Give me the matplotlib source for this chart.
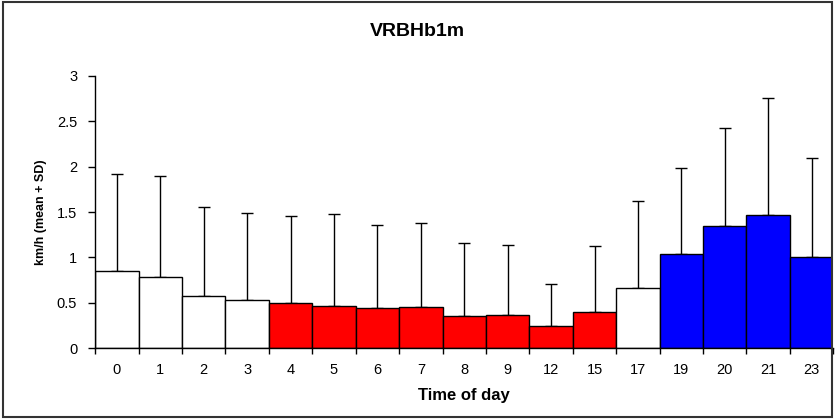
import numpy as np
import matplotlib
matplotlib.use("Agg")
import matplotlib.pyplot as plt
from matplotlib.patches import Rectangle

plt.rcParams['font.family'] = ['Liberation Sans', 'DejaVu Sans']

hours = ['0', '1', '2', '3', '4', '5', '6', '7', '8', '9', '12', '15', '17',
         '19', '20', '21', '23']
means = [0.85, 0.78, 0.58, 0.53, 0.50, 0.47, 0.44, 0.45, 0.35, 0.37, 0.24,
         0.40, 0.66, 1.04, 1.35, 1.47, 1.00]
tops = [1.92, 1.90, 1.55, 1.49, 1.46, 1.48, 1.36, 1.38, 1.16, 1.14, 0.71,
        1.13, 1.62, 1.99, 2.43, 2.76, 2.09]
groups = ['w', 'w', 'w', 'w', 'r', 'r', 'r', 'r', 'r', 'r', 'r', 'r', 'w',
          'b', 'b', 'b', 'b']

GROUP_COLORS = {'w': '#ffffff', 'r': '#ff0000', 'b': '#0000ff'}

sd = np.array(tops) - np.array(means)
x = np.arange(len(hours))
colors = [GROUP_COLORS[g] for g in groups]

fig = plt.figure(figsize=(8.35, 4.19), dpi=100)
ax = fig.add_axes([0.114, 0.169, 0.884, 0.650])

ax.bar(x, means, width=1.0, color=colors, edgecolor='black', linewidth=1.0,
       zorder=2)
ax.errorbar(x, means, yerr=[np.zeros_like(sd), sd], fmt='none',
            ecolor='black', elinewidth=1.0, capsize=4, capthick=1.0, zorder=1)

ax.set_xlim(-0.5, len(hours) - 0.5)
ax.set_ylim(0, 3)
ax.set_yticks([0, 0.5, 1, 1.5, 2, 2.5, 3])
ax.set_yticklabels(['0', '0.5', '1', '1.5', '2', '2.5', '3'])

# ticks between categories, labels at centres
ax.set_xticks(np.arange(len(hours) + 1) - 0.5)
ax.set_xticklabels([])
ax.set_xticks(x, minor=True)
ax.set_xticklabels(hours, minor=True)
ax.tick_params(axis='x', which='major', direction='out', length=4, width=1)
ax.tick_params(axis='x', which='minor', length=0, pad=11, labelsize=10.5)
ax.tick_params(axis='y', direction='out', length=5, width=1, pad=8,
               labelsize=10.5)

for s in ['top', 'right']:
    ax.spines[s].set_visible(False)
ax.spines['left'].set_linewidth(1.0)
ax.spines['bottom'].set_linewidth(1.0)

ax.set_xlabel('Time of day', fontsize=12, fontweight='bold')
ax.xaxis.set_label_coords(0.5, -0.148)
ax.set_ylabel('km/h (mean + SD)', fontsize=9, fontweight='bold')
ax.yaxis.set_label_coords(-0.073, 0.5)
ax.yaxis.label.set_va('center')
fig.text(0.5, 0.926, 'VRBHb1m', ha='center', va='center', fontsize=14,
         fontweight='bold')

fig.patches.append(Rectangle((0.003, 0.004), 0.994, 0.991,
                             transform=fig.transFigure, fill=False,
                             edgecolor='#333333', linewidth=1.5))

fig.savefig('out.png', dpi=100)
